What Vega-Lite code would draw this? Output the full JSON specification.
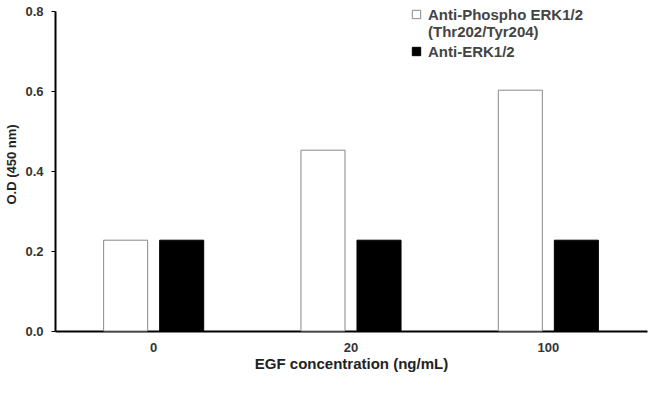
{
  "$schema": "https://vega.github.io/schema/vega-lite/v6.json",
  "width": 592,
  "height": 320,
  "autosize": "none",
  "padding": {"left": 55, "top": 11, "right": 3, "bottom": 68},
  "background": "white",
  "config": {
    "view": {"stroke": null},
    "font": "Liberation Sans",
    "axis": {"grid": false, "labelFont": "Liberation Sans", "titleFont": "Liberation Sans", "labelFontWeight": "bold", "titleFontWeight": "bold", "labelFontSize": 13, "titleFontSize": 15, "labelColor": "#333", "titleColor": "#222", "domainColor": "black", "tickColor": "black", "domainWidth": 2}
  },
  "data": {
    "values": [
      {"egf": "0", "antibody": "Anti-Phospho ERK1/2 (Thr202/Tyr204)", "od": 0.227},
      {"egf": "0", "antibody": "Anti-ERK1/2", "od": 0.227},
      {"egf": "20", "antibody": "Anti-Phospho ERK1/2 (Thr202/Tyr204)", "od": 0.452},
      {"egf": "20", "antibody": "Anti-ERK1/2", "od": 0.227},
      {"egf": "100", "antibody": "Anti-Phospho ERK1/2 (Thr202/Tyr204)", "od": 0.602},
      {"egf": "100", "antibody": "Anti-ERK1/2", "od": 0.227}
    ]
  },
  "mark": {"type": "bar", "strokeWidth": 1},
  "encoding": {
    "x": {
      "field": "egf", "type": "nominal", "sort": ["0", "20", "100"],
      "scale": {"paddingInner": 0, "paddingOuter": 0},
      "axis": {"title": "EGF concentration (ng/mL)", "labelAngle": 0, "ticks": false, "labelPadding": 10, "titlePadding": 2}
    },
    "xOffset": {
      "field": "antibody", "type": "nominal",
      "sort": ["Anti-Phospho ERK1/2 (Thr202/Tyr204)", "Anti-ERK1/2"],
      "scale": {"paddingInner": 0.214, "paddingOuter": 0.868}
    },
    "y": {
      "field": "od", "type": "quantitative",
      "scale": {"domain": [0, 0.8], "nice": false},
      "axis": {"title": "O.D (450 nm)", "titleFontSize": 13, "titleX": -44, "titleY": 153, "titleBaseline": "middle", "values": [0, 0.2, 0.4, 0.6, 0.8], "format": ".1f", "tickSize": 4, "labelPadding": 8}
    },
    "fill": {
      "field": "antibody", "type": "nominal",
      "sort": ["Anti-Phospho ERK1/2 (Thr202/Tyr204)", "Anti-ERK1/2"],
      "scale": {"domain": ["Anti-Phospho ERK1/2 (Thr202/Tyr204)", "Anti-ERK1/2"], "range": ["white", "black"]},
      "legend": {
        "title": null, "orient": "none", "legendX": 354, "legendY": -4,
        "symbolType": "square", "symbolSize": 70, "symbolStrokeWidth": 1,
        "labelFont": "Liberation Sans", "labelFontSize": 15, "labelFontWeight": "bold", "labelColor": "#444",
        "labelExpr": "datum.label == 'Anti-Phospho ERK1/2 (Thr202/Tyr204)' ? ['Anti-Phospho ERK1/2', '(Thr202/Tyr204)'] : datum.label",
        "labelOffset": 4, "labelLimit": 300, "rowPadding": 4
      }
    },
    "stroke": {
      "field": "antibody", "type": "nominal",
      "scale": {"domain": ["Anti-Phospho ERK1/2 (Thr202/Tyr204)", "Anti-ERK1/2"], "range": ["#888888", "black"]},
      "legend": null
    }
  }
}
